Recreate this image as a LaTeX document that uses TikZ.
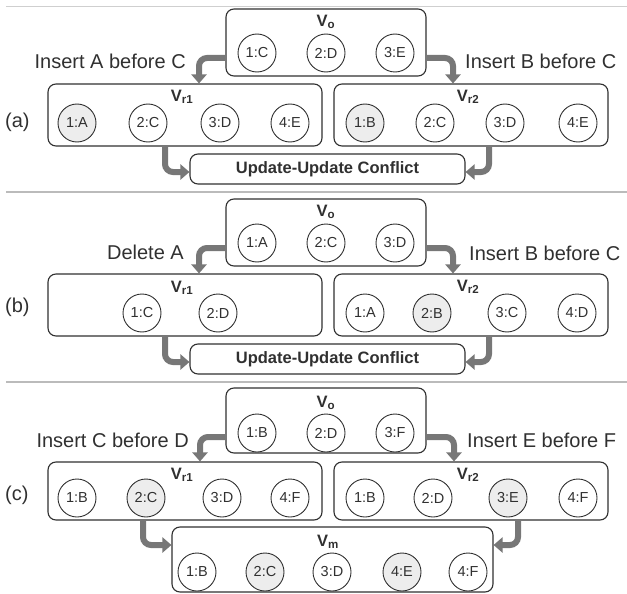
\documentclass[tikz,border=0pt]{standalone}
\usepackage{fontspec}
\setmainfont{Liberation Sans}
\usetikzlibrary{arrows.meta}
\definecolor{ink}{HTML}{303030}
\definecolor{flowc}{HTML}{777777}
\definecolor{shade}{HTML}{EDEDED}
\definecolor{sep}{HTML}{BBBBBB}
\tikzset{
  vbox/.style={draw=ink, line width=1.1pt, rounded corners=8pt, inner sep=0pt},
  elem/.style={circle, draw=ink, line width=0.9pt, minimum size=38pt, inner sep=0pt, text=ink, font=\fontsize{14.5}{16}\selectfont},
  newelem/.style={elem, fill=shade},
  vtitle/.style={text=ink, font=\fontsize{16.5}{18}\selectfont\bfseries, inner sep=0pt},
  oplabel/.style={text=ink, font=\fontsize{20}{24}\selectfont, inner sep=0pt},
  conflict/.style={vbox, text=ink, font=\fontsize{16.5}{18}\selectfont\bfseries},
  flow/.style={draw=flowc, line width=6pt, rounded corners=8pt, -{Triangle[width=15pt,length=9pt]}},
  sepline/.style={draw=sep, line width=2pt}
}
\begin{document}
\begin{tikzpicture}[x=1pt,y=-1pt]
\useasboundingbox (0,0) rectangle (627,594);
% separators
\coordinate (s0a) at (6,7); \coordinate (s0b) at (627,7);
\coordinate (s1a) at (6,191.5); \coordinate (s1b) at (627,191.5);
\coordinate (s2a) at (6,381.5); \coordinate (s2b) at (627,381.5);
\draw[draw=sep!70, line width=1pt] (s0a) -- (s0b);
\draw[sepline] (s1a) -- (s1b);
\draw[sepline] (s2a) -- (s2b);

% ================= (a) =================
\node[vbox, minimum width=200pt, minimum height=67pt] (voA) at (326,42.5) {};
\node[vbox, minimum width=274pt, minimum height=62pt] (r1A) at (185,115) {};
\node[vbox, minimum width=274pt, minimum height=62pt] (r2A) at (471,115) {};
\node[conflict, minimum width=275pt, minimum height=30pt] (cfA) at (327.5,169) {Update-Update Conflict};
\node[vtitle] (voAt) at (326,22) {V\textsubscript{o}};
\node[vtitle] (r1At) at (182,97) {V\textsubscript{r1}};
\node[vtitle] (r2At) at (468,97) {V\textsubscript{r2}};
\node[elem] (a01) at (257,53) {1:C};
\node[elem] (a02) at (326,53) {2:D};
\node[elem] (a03) at (395,53) {3:E};
\node[newelem] (a11) at (77,123) {1:A};
\node[elem] (a12) at (148,123) {2:C};
\node[elem] (a13) at (220,123) {3:D};
\node[elem] (a14) at (290,123) {4:E};
\node[newelem] (a21) at (365,123) {1:B};
\node[elem] (a22) at (435,123) {2:C};
\node[elem] (a23) at (505,123) {3:D};
\node[elem] (a24) at (578,123) {4:E};
\node[oplabel, anchor=base east] (opA1) at (186,69) {Insert A before C};
\node[oplabel, anchor=base west] (opA2) at (465,69) {Insert B before C};
\node[oplabel, anchor=west] (labA) at (5,122) {(a)};
\draw[flow] (voA.west |- 0,58) -| (199,0 |- r1A.north);
\draw[flow] (voA.east |- 0,58) -| (453,0 |- r2A.north);
\draw[flow] (165,0 |- r1A.south) |- (cfA.west |- 0,172);
\draw[flow] (489,0 |- r2A.south) |- (cfA.east |- 0,172);

% ================= (b) =================
\node[vbox, minimum width=200pt, minimum height=67pt] (voB) at (326,232.5) {};
\node[vbox, minimum width=274pt, minimum height=62pt] (r1B) at (185,305) {};
\node[vbox, minimum width=274pt, minimum height=62pt] (r2B) at (471,305) {};
\node[conflict, minimum width=275pt, minimum height=30pt] (cfB) at (327.5,359) {Update-Update Conflict};
\node[vtitle] (voBt) at (326,212) {V\textsubscript{o}};
\node[vtitle] (r1Bt) at (182,288) {V\textsubscript{r1}};
\node[vtitle] (r2Bt) at (468,287) {V\textsubscript{r2}};
\node[elem] (b01) at (257,243) {1:A};
\node[elem] (b02) at (326,243) {2:C};
\node[elem] (b03) at (395,243) {3:D};
\node[elem] (b11) at (142,313) {1:C};
\node[elem] (b12) at (218,313) {2:D};
\node[elem] (b21) at (365,313) {1:A};
\node[newelem] (b22) at (432,313) {2:B};
\node[elem] (b23) at (507,313) {3:C};
\node[elem] (b24) at (577,313) {4:D};
\node[oplabel, anchor=base east] (opB1) at (184,259) {Delete A};
\node[oplabel, anchor=base west] (opB2) at (469,260) {Insert B before C};
\node[oplabel, anchor=west] (labB) at (5,307) {(b)};
\draw[flow] (voB.west |- 0,248) -| (199,0 |- r1B.north);
\draw[flow] (voB.east |- 0,248) -| (453,0 |- r2B.north);
\draw[flow] (165,0 |- r1B.south) |- (cfB.west |- 0,362);
\draw[flow] (489,0 |- r2B.south) |- (cfB.east |- 0,362);

% ================= (c) =================
\node[vbox, minimum width=200pt, minimum height=65pt] (voC) at (326,420.5) {};
\node[vbox, minimum width=274pt, minimum height=58pt] (r1C) at (185,491) {};
\node[vbox, minimum width=274pt, minimum height=58pt] (r2C) at (471,491) {};
\node[vbox, minimum width=321pt, minimum height=65pt] (vmC) at (332.5,559.5) {};
\node[vtitle] (voCt) at (326,403) {V\textsubscript{o}};
\node[vtitle] (r1Ct) at (182,475) {V\textsubscript{r1}};
\node[vtitle] (r2Ct) at (468,475) {V\textsubscript{r2}};
\node[vtitle] (vmCt) at (328,542) {V\textsubscript{m}};
\node[elem] (c01) at (257,433) {1:B};
\node[elem] (c02) at (326,433) {2:D};
\node[elem] (c03) at (395,433) {3:F};
\node[elem] (c11) at (77,498) {1:B};
\node[newelem] (c12) at (146,498) {2:C};
\node[elem] (c13) at (222,498) {3:D};
\node[elem] (c14) at (290,498) {4:F};
\node[elem] (c21) at (365,498) {1:B};
\node[elem] (c22) at (433,498) {2:D};
\node[newelem] (c23) at (508,498) {3:E};
\node[elem] (c24) at (578,498) {4:F};
\node[elem] (m1) at (197,572) {1:B};
\node[newelem] (m2) at (265,572) {2:C};
\node[elem] (m3) at (332,572) {3:D};
\node[newelem] (m4) at (402,572) {4:E};
\node[elem] (m5) at (468,572) {4:F};
\node[oplabel, anchor=base east] (opC1) at (189,447) {Insert C before D};
\node[oplabel, anchor=base west] (opC2) at (467,447) {Insert E before F};
\node[oplabel, anchor=west] (labC) at (5,495) {(c)};
\draw[flow] (voC.west |- 0,437) -| (200,0 |- r1C.north);
\draw[flow] (voC.east |- 0,437) -| (454,0 |- r2C.north);
\draw[flow] (143,0 |- r1C.south) |- (vmC.west |- 0,545);
\draw[flow] (518,0 |- r2C.south) |- (vmC.east |- 0,545);
\end{tikzpicture}
\end{document}
